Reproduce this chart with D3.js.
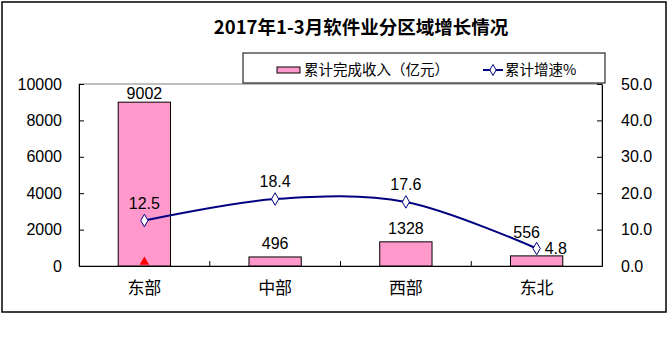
<!DOCTYPE html>
<html>
<head>
<meta charset="utf-8">
<script src="https://cdn.jsdelivr.net/npm/d3@7"></script>
<style>
body { margin: 0; background: #fff; }
text { font-family: "Liberation Sans", Arial, sans-serif; }
.cjk { font-family: "Noto Sans CJK SC", sans-serif; }
</style>
</head>
<body>
<svg width="671" height="362"></svg>
<script>
const regions = ["东部", "中部", "西部", "东北"];
const income = [9002, 496, 1328, 556];
const growth = [12.5, 18.4, 17.6, 4.8];
const leftTicks = [0, 2000, 4000, 6000, 8000, 10000];
const rightTicks = [0, 10, 20, 30, 40, 50];

const svg = d3.select("svg");
const plot = { left: 79, right: 602, top: 84, bottom: 266 };

// outer frame
svg.append("rect")
    .attr("x", 2).attr("y", 2).attr("width", 664).attr("height", 310)
    .attr("fill", "#fff").attr("stroke", "#000").attr("stroke-width", 1.5);

svg.append("text")
    .attr("x", 361).attr("y", 34)
    .attr("text-anchor", "middle")
    .attr("font-size", 18.5).attr("font-weight", "bold")
    .attr("class", "cjk")
    .text("2017年1-3月软件业分区域增长情况");

const x = d3.scaleBand().domain(regions).range([plot.left, plot.right]);
const yL = d3.scaleLinear().domain([0, 10000]).range([plot.bottom, plot.top]);
const yR = d3.scaleLinear().domain([0, 50]).range([plot.bottom, plot.top]);

// plot area border
svg.append("rect")
    .attr("x", plot.left).attr("y", plot.top)
    .attr("width", plot.right - plot.left).attr("height", plot.bottom - plot.top)
    .attr("fill", "none").attr("stroke", "#808080");

// left axis
const axL = svg.append("g").attr("transform", `translate(${plot.left},0)`)
    .call(d3.axisLeft(yL).tickValues(leftTicks).tickFormat(d3.format("d"))
        .tickSizeInner(-5).tickSizeOuter(0).tickPadding(17));
axL.select(".domain").attr("stroke", "#000");
axL.selectAll("text").attr("font-size", 16).attr("font-family", "Liberation Sans, Arial");

// right axis
const axR = svg.append("g").attr("transform", `translate(${plot.right},0)`)
    .call(d3.axisRight(yR).tickValues(rightTicks).tickFormat(d3.format(".1f"))
        .tickSizeInner(-5).tickSizeOuter(0).tickPadding(19));
axR.select(".domain").attr("stroke", "#000");
axR.selectAll("text").attr("font-size", 16).attr("font-family", "Liberation Sans, Arial");

// bars
svg.selectAll(".bar")
    .data(income)
    .enter().append("rect")
    .attr("class", "bar")
    .attr("x", (d, i) => x(regions[i]) + x.bandwidth() * 0.3)
    .attr("width", x.bandwidth() * 0.4)
    .attr("y", d => yL(d))
    .attr("height", d => plot.bottom - yL(d))
    .attr("fill", "#FF99CC").attr("stroke", "#000");

// bottom axis
const axB = svg.append("g").attr("transform", `translate(0,${plot.bottom})`)
    .call(d3.axisBottom(x).tickSize(0).tickPadding(16));
axB.select(".domain").attr("stroke", "#000");
axB.selectAll("text").attr("font-size", 17).attr("class", "cjk").attr("fill", "#000");
svg.selectAll(".cat-tick")
    .data(regions.slice(1))
    .enter().append("line")
    .attr("x1", d => x(d)).attr("x2", d => x(d))
    .attr("y1", plot.bottom).attr("y2", plot.bottom - 5)
    .attr("stroke", "#000");

// stray red marker at 东部
svg.append("path")
    .attr("d", d3.symbol(d3.symbolTriangle, 40))
    .attr("transform", `translate(${x(regions[0]) + x.bandwidth() / 2},${plot.bottom - 4})`)
    .attr("fill", "#FF0000");

// growth line
const cx = i => x(regions[i]) + x.bandwidth() / 2;
const line = d3.line()
    .x((d, i) => cx(i))
    .y(d => yR(d))
    .curve(d3.curveCardinal.tension(0));
svg.append("path")
    .datum(growth)
    .attr("d", line)
    .attr("fill", "none").attr("stroke", "#000080").attr("stroke-width", 2);

svg.selectAll(".pt")
    .data(growth)
    .enter().append("path")
    .attr("d", d3.symbol(d3.symbolDiamond, 45))
    .attr("transform", (d, i) => `translate(${cx(i)},${yR(d)})`)
    .attr("fill", "#fff").attr("stroke", "#000080");

// labels
const last = growth.length - 1;
svg.selectAll(".glabel")
    .data(growth)
    .enter().append("text")
    .attr("x", (d, i) => i === last ? cx(i) + 8 : cx(i))
    .attr("y", (d, i) => i === last ? yR(d) + 5 : yR(d) - 12)
    .attr("text-anchor", (d, i) => i === last ? "start" : "middle")
    .attr("font-size", 16)
    .text(d => d.toFixed(1));

svg.selectAll(".blabel")
    .data(income)
    .enter().append("text")
    .attr("x", (d, i) => i === last ? cx(i) - 10 : cx(i))
    .attr("y", (d, i) => i === last ? yR(growth[i]) - 11 : Math.max(yL(d) - 8, plot.top + 15))
    .attr("text-anchor", "middle")
    .attr("font-size", 16)
    .text(d => d);

// legend
const lg = svg.append("g");
lg.append("rect")
    .attr("x", 243).attr("y", 53).attr("width", 362).attr("height", 30)
    .attr("fill", "#fff").attr("stroke", "#000");
lg.append("rect")
    .attr("x", 277).attr("y", 67).attr("width", 23).attr("height", 6)
    .attr("fill", "#FF99CC").attr("stroke", "#000");
lg.append("text")
    .attr("x", 304).attr("y", 75).attr("class", "cjk").attr("font-size", 14.5)
    .text("累计完成收入（亿元）");
lg.append("line")
    .attr("x1", 483).attr("x2", 503).attr("y1", 70).attr("y2", 70)
    .attr("stroke", "#000080").attr("stroke-width", 2);
lg.append("path")
    .attr("d", d3.symbol(d3.symbolDiamond, 35))
    .attr("transform", "translate(493,70)")
    .attr("fill", "#fff").attr("stroke", "#000080");
lg.append("text")
    .attr("x", 505).attr("y", 75).attr("class", "cjk").attr("font-size", 14.5)
    .text("累计增速%");
</script>
</body>
</html>
